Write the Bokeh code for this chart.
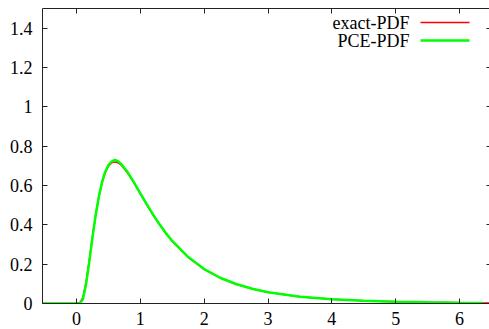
from bokeh.plotting import figure
from bokeh.models import FixedTicker, CustomJSTickFormatter, LinearAxis, Range1d, Label
from bokeh.embed import file_html
from bokeh.resources import INLINE

# Values
x_exact = [-0.53, -0.2, 0.0, 0.05, 0.1, 0.15, 0.2, 0.25, 0.3, 0.35, 0.4, 0.45, 0.5, 0.55, 0.6,
           0.65, 0.7, 0.8, 0.9, 1.0, 1.1, 1.2, 1.3, 1.4, 1.5, 1.75, 2.0, 2.25, 2.5, 2.75,
           3.0, 3.5, 4.0, 4.5, 5.0, 5.5, 6.0, 6.5]
y_exact = [0.0, 0.0, 0.0, 0.002, 0.031, 0.110, 0.221, 0.341, 0.451, 0.542, 0.614, 0.665, 0.698, 0.715, 0.720,
           0.716, 0.704, 0.664, 0.613, 0.558, 0.503, 0.450, 0.401, 0.357, 0.317, 0.235, 0.174, 0.130, 0.098, 0.075,
           0.057, 0.034, 0.021, 0.0136, 0.0089, 0.0059, 0.0040, 0.0028]

x_pce = [-0.53, -0.2, 0.0, 0.05, 0.1, 0.15, 0.2, 0.25, 0.3, 0.35, 0.4, 0.45, 0.5, 0.55, 0.58, 0.6,
         0.62, 0.65, 0.7, 0.8, 0.9, 1.0, 1.1, 1.2, 1.3, 1.4, 1.5, 1.75, 2.0, 2.25, 2.5, 2.75,
         3.0, 3.5, 4.0, 4.5, 5.0, 5.5, 6.0, 6.36]
y_pce = [0.0, 0.0, 0.0, 0.0, 0.022, 0.098, 0.212, 0.336, 0.449, 0.544, 0.618, 0.670, 0.704, 0.721, 0.726, 0.731,
         0.727, 0.724, 0.709, 0.668, 0.616, 0.560, 0.505, 0.452, 0.403, 0.358, 0.318, 0.236, 0.175, 0.131, 0.099, 0.075,
         0.057, 0.034, 0.021, 0.0136, 0.0089, 0.0059, 0.0040, 0.0030]

x_ticks = [0, 1, 2, 3, 4, 5, 6]
y_ticks = [0, 0.2, 0.4, 0.6, 0.8, 1.0, 1.2, 1.4]
series_labels = ["exact-PDF", "PCE-PDF"]
series_colors = ["#ff0000", "#00ff00"]

X0, X1 = -0.533, 6.47
Y0, Y1 = 0.0, 1.5
FRAME_W, FRAME_H = 447, 295
FONT = "Liberation Serif"
FS = "18px"

p = figure(width=489, height=329, output_backend="svg", toolbar_location=None,
           x_range=Range1d(X0, X1), y_range=Range1d(Y0, Y1),
           min_border_left=42, min_border_right=0, min_border_top=8, min_border_bottom=26,
           frame_width=FRAME_W, frame_height=FRAME_H,
           x_axis_location=None, y_axis_location=None)
p.outline_line_color = None
p.grid.visible = False
p.background_fill_color = "white"
p.border_fill_color = "white"

fmt = CustomJSTickFormatter(code="return String(Math.round(tick*10)/10);")
blank = CustomJSTickFormatter(code="return '';")

def style(ax):
    ax.axis_line_color = "#222222"
    ax.axis_line_width = 1
    ax.major_tick_line_color = "#222222"
    ax.major_tick_in = 5
    ax.major_tick_out = 0
    ax.minor_tick_line_color = None
    ax.major_label_text_font = FONT
    ax.major_label_text_font_size = FS
    ax.major_label_text_font_style = "normal"
    ax.major_label_text_color = "black"

left = LinearAxis(ticker=FixedTicker(ticks=y_ticks), formatter=fmt)
style(left)
left.major_label_standoff = 10
p.add_layout(left, "left")

below = LinearAxis(ticker=FixedTicker(ticks=x_ticks), formatter=fmt)
style(below)
below.major_label_standoff = 8
p.add_layout(below, "below")

above = LinearAxis(ticker=FixedTicker(ticks=x_ticks), formatter=blank)
style(above)
above.major_label_standoff = 0
p.add_layout(above, "above")

right = LinearAxis(ticker=FixedTicker(ticks=y_ticks), formatter=blank)
style(right)
right.axis_line_color = None
right.major_tick_in = 3
right.major_label_standoff = 0
p.add_layout(right, "right")

p.line(x_exact, y_exact, line_color=series_colors[0], line_width=1.5)
p.line(x_pce, y_pce, line_color=series_colors[1], line_width=2.5)

# manual legend (text then line sample), positioned from frame pixel offsets
def dx(px):
    return X0 + px * (X1 - X0) / FRAME_W

def dy(px_from_top):
    return Y1 - px_from_top * (Y1 - Y0) / FRAME_H

rows = [14, 32]
for lab, col, ry, lw in zip(series_labels, series_colors, rows, [1.5, 2.5]):
    p.add_layout(Label(x=dx(367), y=dy(ry), text=lab, text_font=FONT, text_font_size="18px",
                       text_align="right", text_baseline="middle", text_color="black"))
    p.line([dx(378), dx(427)], [dy(ry), dy(ry)], line_color=col, line_width=lw)

open("out.html", "w").write(file_html(p, INLINE))
